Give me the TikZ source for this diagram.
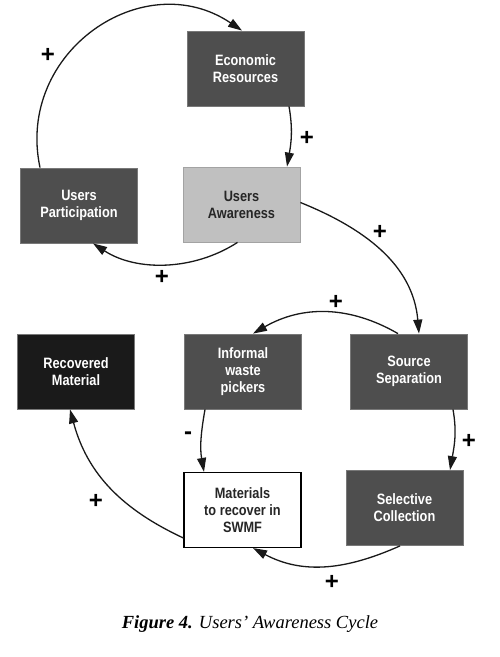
\documentclass[tikz,border=0pt]{standalone}
\usepackage{fontspec}
\setmainfont{Liberation Serif}
\newfontfamily\boxfont[FakeStretch=0.85]{Liberation Sans}
\newfontfamily\signfont{Liberation Sans}
\usetikzlibrary{arrows.meta}

\begin{document}
\begin{tikzpicture}[
    x=1pt, y=1pt,                    % 1 drawing unit = 1 px of the figure
    >={Triangle[length=14pt,width=9pt]},
    link/.style={->,line width=1.3pt,black!90},
    sign/.style={font=\signfont\bfseries\fontsize{24}{24}\selectfont,inner sep=0pt},
    box/.style={minimum width=117pt,minimum height=75pt,inner sep=2pt,align=center,
                font=\boxfont\bfseries\fontsize{15}{17}\selectfont},
    dark/.style={box,fill=boxD,draw=boxE,line width=0.8pt,text=white},
    light/.style={box,fill=boxL,draw=boxL!85!black,line width=0.8pt,text=black!85},
    blackbox/.style={box,fill=boxK,draw=boxE,line width=0.8pt,text=white},
    plain/.style={box,fill=white,draw=black,line width=1.2pt,text=black!85},
  ]
  \definecolor{boxD}{RGB}{78,78,78}
  \definecolor{boxL}{RGB}{192,192,192}
  \definecolor{boxK}{RGB}{26,26,26}
  \definecolor{boxE}{RGB}{120,120,120}

  \useasboundingbox (0,0) rectangle (500,657);

  %% ---------------- upper loop ----------------
  \node[dark]  (econ)  at (245.5,588.5) {Economic\\Resources};
  \node[dark]  (part)  at (79,451.5)    {Users\\Participation};
  \node[light] (aware) at (241.5,452.5) {Users\\Awareness};

  \draw[link] ([xshift=-39pt]part.north) to[out=102,in=146,looseness=1.24] ([xshift=-3.5pt]econ.north);
  \draw[link] ([xshift=43.5pt]econ.south) to[out=-80,in=80] ([xshift=45.5pt]aware.north);
  \draw[link] ([xshift=-4pt]aware.south) to[out=-147,in=-33,looseness=0.92] ([xshift=14pt]part.south);

  \node[sign] (s1) at (48,602)  {+};
  \node[sign] (s2) at (307,519) {+};
  \node[sign] (s3) at (162,380) {+};

  %% ---------------- lower loop ----------------
  \node[blackbox] (recov) at (76,285.5)  {Recovered\\Material};
  \node[dark]     (pick)  at (243,285.5) {Informal\\waste\\pickers};
  \node[dark]     (sep)   at (409,285.5) {Source\\Separation};
  \node[plain]    (mat)   at (242.5,147) {Materials\\to recover in\\SWMF};
  \node[dark]     (coll)  at (404.5,149) {Selective\\Collection};

  \draw[link] ([yshift=2pt]aware.east) to[out=-22,in=95] ([xshift=10pt]sep.north);
  \draw[link] ([xshift=-11pt]sep.north) to[out=150,in=30] ([xshift=10pt]pick.north);
  \draw[link] ([xshift=44pt]sep.south) to[out=-80,in=80] ([xshift=45.5pt]coll.north);
  \draw[link] ([xshift=-4.5pt]coll.south) to[out=-156,in=-28] ([xshift=10.5pt]mat.south);
  \draw[link] ([xshift=-38pt]pick.south) to[out=-100,in=100] ([xshift=-38.5pt]mat.north);
  \draw[link] ([yshift=-28pt]mat.west) to[out=155,in=-75] ([xshift=-6pt]recov.south);

  \node[sign] (s4) at (380,425) {+};
  \node[sign] (s5) at (336,355) {+};
  \node[sign] (s6) at (469,216) {+};
  \node[sign] (s7) at (332,75)  {+};
  \node[sign] (s8) at (188,221) {-};
  \node[sign] (s9) at (96,156)  {+};

  %% ---------------- caption ----------------
  \node[anchor=base,font=\fontsize{18.5}{18.5}\selectfont] (cap) at (250,28)
        {\textbf{\textit{Figure 4.}} \textit{Users’ Awareness Cycle}};
\end{tikzpicture}
\end{document}
